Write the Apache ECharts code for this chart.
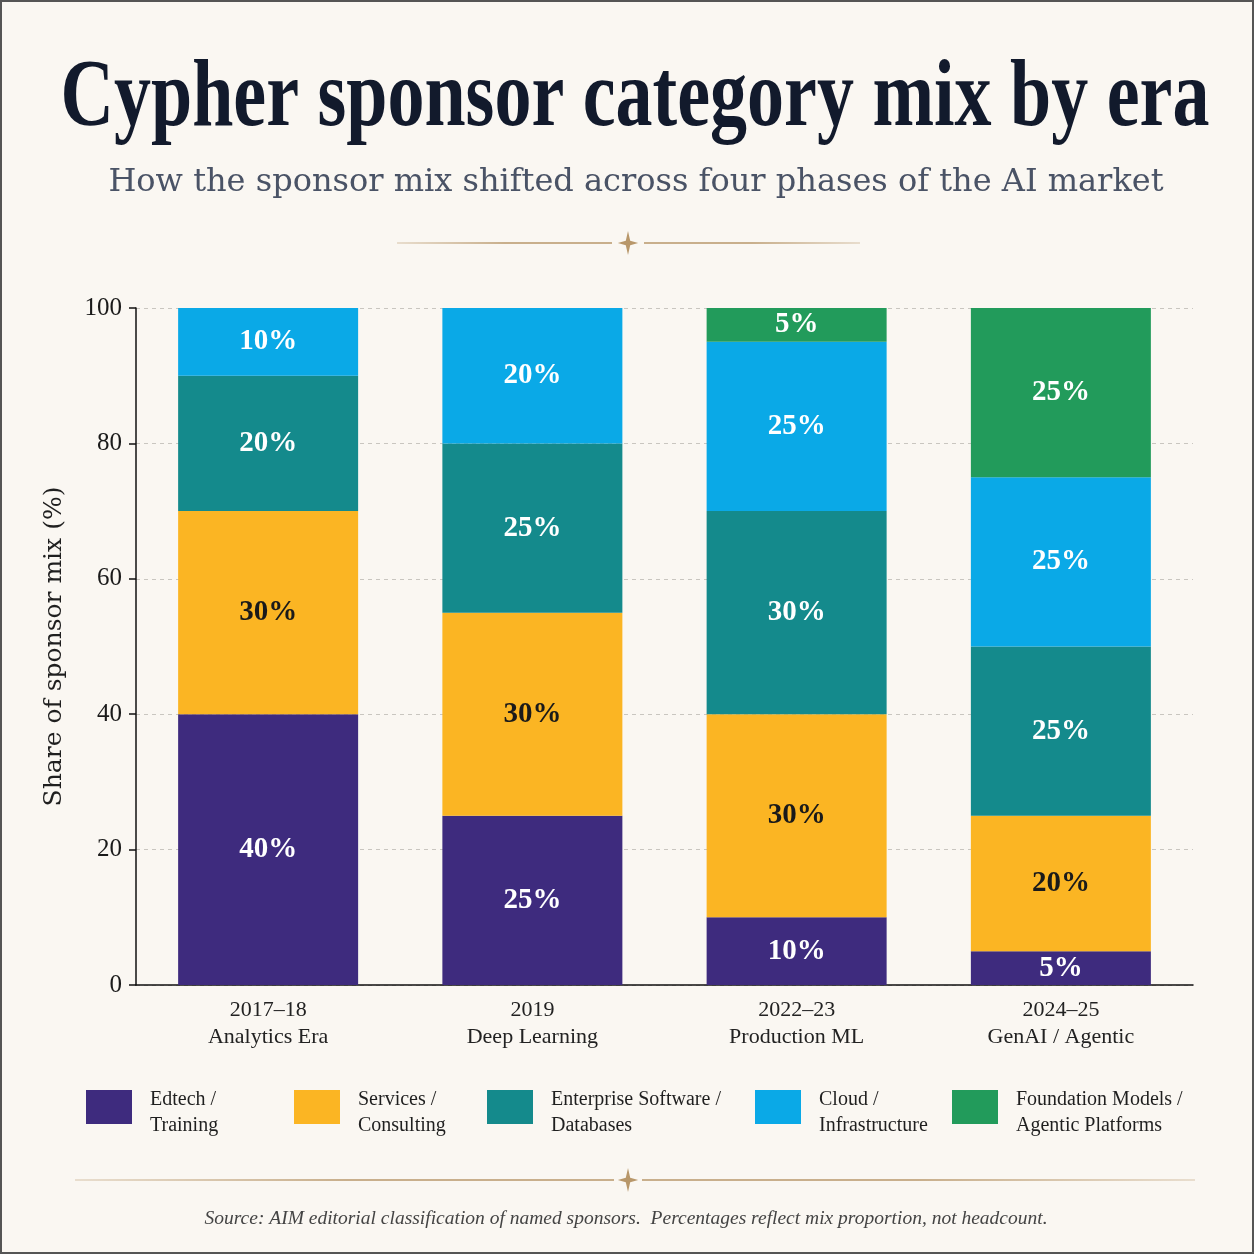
<!DOCTYPE html>
<html>
<head>
<meta charset="utf-8">
<script src="https://cdn.jsdelivr.net/npm/echarts@6/dist/echarts.min.js"></script>
<style>
html,body{margin:0;padding:0;background:#FAF7F2;}
#chart{width:1254px;height:1254px;}
</style>
</head>
<body>
<div id="chart"></div>
<script>
// ---- data ----
const eraYears = ['2017–18', '2019', '2022–23', '2024–25'];
const eraNames = ['Analytics Era', 'Deep Learning', 'Production ML', 'GenAI / Agentic'];
const seriesNames = ['Edtech / Training', 'Services / Consulting', 'Enterprise Software / Databases', 'Cloud / Infrastructure', 'Foundation Models / Agentic Platforms'];
const edtech = [40, 25, 10, 5];
const services = [30, 30, 30, 20];
const enterprise = [20, 25, 30, 25];
const cloud = [10, 20, 25, 25];
const foundation = [0, 0, 5, 25];
const yTicks = [0, 20, 40, 60, 80, 100];

const titleText = 'Cypher sponsor category mix by era';
const subtitleText = 'How the sponsor mix shifted across four phases of the AI market';
const sourceText = 'Source: AIM editorial classification of named sponsors.  Percentages reflect mix proportion, not headcount.';

// ---- styling ----
const colors = ['#3E2B7E', '#FBB523', '#148A8C', '#0AA9E7', '#229B5B'];
const labelColors = ['#ffffff', '#1a1a1a', '#ffffff', '#ffffff', '#ffffff'];
const serifT = '"Liberation Serif", "Times New Roman", serif';
const serifD = '"DejaVu Serif", serif';
const gold = '#B8976A';

const categories = eraYears.map((y, i) => y + '\n' + eraNames[i]);
const values = [edtech, services, enterprise, cloud, foundation];

const series = seriesNames.map((name, i) => ({
  name: name,
  type: 'bar',
  stack: 'total',
  barWidth: 180,
  data: values[i],
  itemStyle: { color: colors[i] },
  label: {
    show: true,
    position: 'inside',
    formatter: p => (p.value > 0 ? p.value + '%' : ''),
    color: labelColors[i],
    fontFamily: serifT,
    fontWeight: 'bold',
    fontSize: 29
  }
}));

const legendLeft = [86, 294, 487, 755, 952];
const legends = seriesNames.map((name, i) => ({
  data: [name],
  left: legendLeft[i],
  top: 1077,
  padding: 0,
  itemWidth: 46,
  itemHeight: 34,
  icon: 'rect',
  selectedMode: false,
  formatter: n => {
    const parts = n.split(' / ');
    return '{s| }\n{t|' + parts[0] + ' /}\n{t|' + parts[1] + '}';
  },
  textStyle: {
    fontFamily: serifT,
    fontSize: 20,
    color: '#1f1f1f',
    padding: [0, 0, 0, 13],
    rich: {
      s: { fontSize: 8, lineHeight: 12 },
      t: { fontFamily: serifT, fontSize: 20, lineHeight: 26, color: '#1f1f1f' }
    }
  }
}));

// 4-point star decoration
function starPoints(r, w) {
  return [[0, -r], [w, -w], [r * 0.85, 0], [w, w], [0, r], [-w, w], [-r * 0.85, 0], [-w, -w]];
}
function lineGrad(fadeLeft, fadeRight) {
  return new echarts.graphic.LinearGradient(0, 0, 1, 0, [
    { offset: 0, color: fadeLeft ? 'rgba(184,151,106,0.35)' : gold },
    { offset: 0.5, color: gold },
    { offset: 1, color: fadeRight ? 'rgba(184,151,106,0.35)' : gold }
  ]);
}

const chart = echarts.init(document.getElementById('chart'), null, { renderer: 'canvas' });
chart.setOption({
  backgroundColor: '#FAF7F2',
  animation: false,
  grid: { left: 136, right: 61, top: 308, bottom: 269, containLabel: false },
  legend: legends,
  xAxis: {
    type: 'category',
    data: categories,
    axisLine: { show: true, lineStyle: { color: '#111', width: 1.5 } },
    axisTick: { show: false },
    axisLabel: {
      margin: 12,
      fontFamily: serifT,
      fontSize: 22,
      lineHeight: 27,
      color: '#222'
    }
  },
  yAxis: {
    type: 'value',
    min: yTicks[0],
    max: yTicks[yTicks.length - 1],
    interval: 20,
    name: 'Share of sponsor mix (%)',
    nameLocation: 'middle',
    nameGap: 69,
    nameTextStyle: { fontFamily: serifD, fontSize: 25, color: '#1f1f1f' },
    axisLine: { show: true, lineStyle: { color: '#111', width: 1.5 } },
    axisTick: { show: true, length: 7, lineStyle: { color: '#111', width: 1.5 } },
    axisLabel: { margin: 14, fontFamily: serifT, fontSize: 25, color: '#1a1a1a' },
    splitLine: { show: true, lineStyle: { color: '#c9c6c0', type: [4, 4], width: 1 } }
  },
  series: series,
  graphic: [
    { type: 'rect', shape: { x: 1, y: 1, width: 1252, height: 1252 }, style: { fill: null, stroke: '#555', lineWidth: 2 }, silent: true },
    { type: 'text', x: 635, y: 148, scaleX: 1, scaleY: 1.3,
      style: { text: titleText, font: 'bold 74px ' + serifT, fill: '#121a2c', textAlign: 'center', textVerticalAlign: 'bottom' } },
    { type: 'text', x: 636, y: 183,
      style: { text: subtitleText, font: '32px ' + serifD, fill: '#4a5366', textAlign: 'center', textVerticalAlign: 'middle' } },
    { type: 'line', shape: { x1: 397, y1: 243, x2: 612, y2: 243 }, style: { stroke: lineGrad(true, false), lineWidth: 1.6 } },
    { type: 'line', shape: { x1: 644, y1: 243, x2: 860, y2: 243 }, style: { stroke: lineGrad(false, true), lineWidth: 1.6 } },
    { type: 'polygon', x: 628, y: 243, shape: { points: starPoints(12, 2.2) }, style: { fill: gold } },
    { type: 'line', shape: { x1: 75, y1: 1180, x2: 614, y2: 1180 }, style: { stroke: lineGrad(true, false), lineWidth: 1.6 } },
    { type: 'line', shape: { x1: 642, y1: 1180, x2: 1195, y2: 1180 }, style: { stroke: lineGrad(false, true), lineWidth: 1.6 } },
    { type: 'polygon', x: 628, y: 1180, shape: { points: starPoints(12, 2.2) }, style: { fill: gold } },
    { type: 'text', x: 626, y: 1219,
      style: { text: sourceText, font: 'italic 19.5px ' + serifT, fill: '#444', textAlign: 'center', textVerticalAlign: 'middle' } }
  ]
});
</script>
</body>
</html>
